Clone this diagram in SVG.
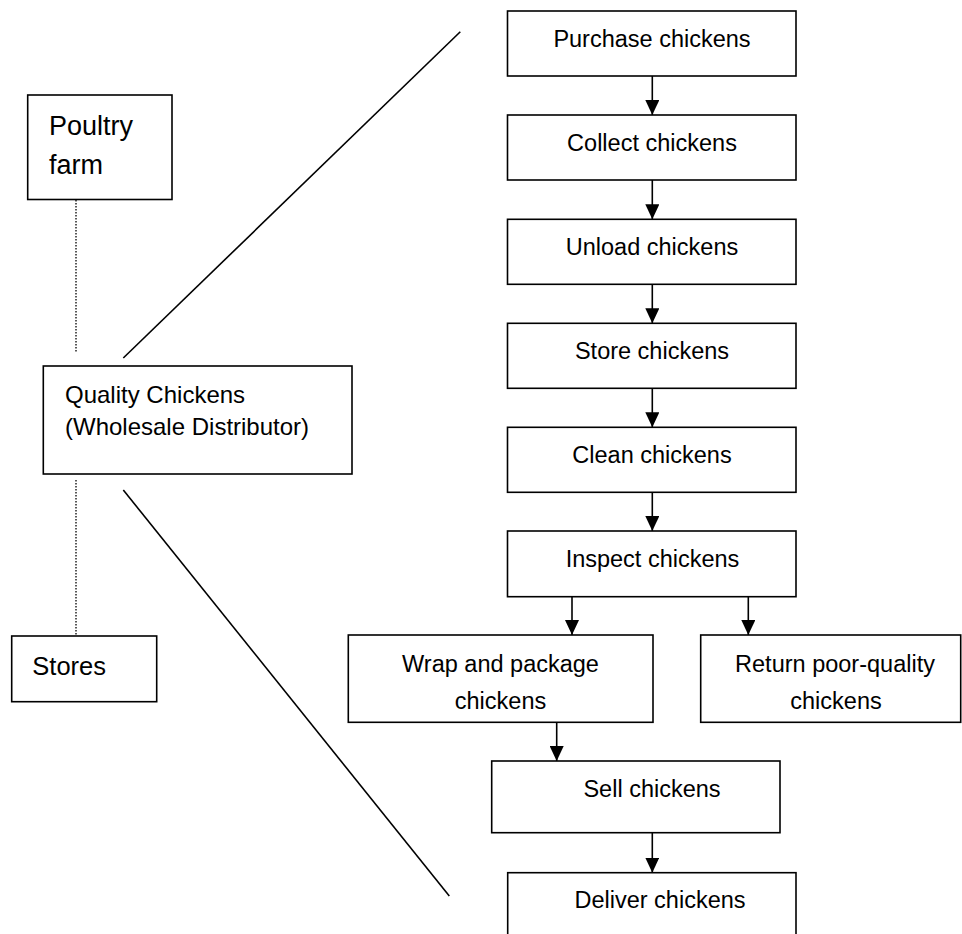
<svg xmlns="http://www.w3.org/2000/svg" width="962" height="934" viewBox="0 0 962 934">
<style>
.box{fill:#fff;stroke:#000;stroke-width:1.6}
.t{font-family:"Liberation Sans",Arial,sans-serif;font-size:23.5px;fill:#000}
.c{text-anchor:middle}
.ln{stroke:#000;stroke-width:1.6;fill:none}
.dot{stroke:#000;stroke-width:1.3;stroke-dasharray:1.5,1.5;fill:none}
.arr{stroke:#000;stroke-width:1.6;fill:none;marker-end:url(#ah)}
</style>
<defs>
<marker id="ah" viewBox="0 0 15 14" refX="15" refY="7" markerWidth="15" markerHeight="14" markerUnits="userSpaceOnUse" orient="auto">
<path d="M0,0 L15,7 L0,14 z" fill="#000"/>
</marker>
</defs>
<rect width="962" height="934" fill="#fff"/>
<g id="connectors">
<line class="dot" x1="76" y1="200" x2="76" y2="353"/>
<line class="dot" x1="76" y1="480" x2="76" y2="636"/>
<line class="ln" x1="123.3" y1="358" x2="460.3" y2="31.7"/>
<line class="ln" x1="123.3" y1="490" x2="449.3" y2="896"/>
<line class="arr" x1="652.3" y1="73" x2="652.3" y2="115"/>
<line class="arr" x1="652.3" y1="177" x2="652.3" y2="219.3"/>
<line class="arr" x1="652.3" y1="281" x2="652.3" y2="323.3"/>
<line class="arr" x1="652.3" y1="385" x2="652.3" y2="427.3"/>
<line class="arr" x1="652.3" y1="489" x2="652.3" y2="531"/>
<line class="arr" x1="572" y1="594" x2="572" y2="635"/>
<line class="arr" x1="748.3" y1="594" x2="748.3" y2="635"/>
<line class="arr" x1="556.7" y1="719" x2="556.7" y2="761"/>
<line class="arr" x1="652.3" y1="829" x2="652.3" y2="872.7"/>
</g>
<g id="poultry-farm">
<rect class="box" x="27.7" y="95" width="144.3" height="104.5"/>
<text class="t" x="49" y="135" style="font-size:27px">Poultry</text>
<text class="t" x="49" y="174.3" style="font-size:27px">farm</text>
</g>
<g id="quality-chickens">
<rect class="box" x="43.3" y="366" width="308.7" height="108"/>
<text class="t" x="65" y="402.7" style="font-size:24px">Quality Chickens</text>
<text class="t" x="65" y="435" style="font-size:24px">(Wholesale Distributor)</text>
</g>
<g id="stores">
<rect class="box" x="11.7" y="636" width="145" height="65.7"/>
<text class="t" x="32.3" y="675" style="font-size:25.5px">Stores</text>
</g>
<g id="purchase">
<rect class="box" x="507.5" y="11" width="288.5" height="65"/>
<text class="t c" x="652" y="46.7">Purchase chickens</text>
</g>
<g id="collect">
<rect class="box" x="507.5" y="115" width="288.5" height="65"/>
<text class="t c" x="652" y="151">Collect chickens</text>
</g>
<g id="unload">
<rect class="box" x="507.5" y="219.3" width="288.5" height="65"/>
<text class="t c" x="652" y="255.3">Unload chickens</text>
</g>
<g id="store">
<rect class="box" x="507.5" y="323.3" width="288.5" height="65"/>
<text class="t c" x="652" y="359.3">Store chickens</text>
</g>
<g id="clean">
<rect class="box" x="507.5" y="427.3" width="288.5" height="65"/>
<text class="t c" x="652" y="463.3">Clean chickens</text>
</g>
<g id="inspect">
<rect class="box" x="507.5" y="531" width="288.5" height="65.7"/>
<text class="t c" x="652.5" y="567">Inspect chickens</text>
</g>
<g id="wrap">
<rect class="box" x="348.3" y="635" width="304.7" height="87.3"/>
<text class="t c" x="500.5" y="671.7">Wrap and package</text>
<text class="t c" x="500.5" y="709">chickens</text>
</g>
<g id="return">
<rect class="box" x="700.7" y="635" width="260" height="87.3"/>
<text class="t c" x="835" y="671.7">Return poor-quality</text>
<text class="t c" x="836" y="709">chickens</text>
</g>
<g id="sell">
<rect class="box" x="491.7" y="761" width="288.3" height="71.7"/>
<text class="t c" x="652" y="796.7">Sell chickens</text>
</g>
<g id="deliver">
<rect class="box" x="507.7" y="872.7" width="288.3" height="80"/>
<text class="t c" x="660" y="908.3">Deliver chickens</text>
</g>
</svg>
